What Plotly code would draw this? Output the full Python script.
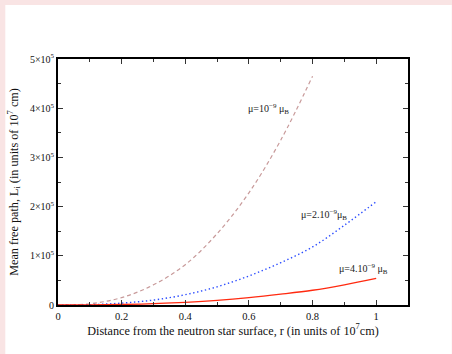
import plotly.graph_objects as go

# Distance r (units of 1e7 cm)
r_full = [0.0, 0.1, 0.2, 0.3, 0.4, 0.5, 0.6, 0.7, 0.8, 0.9, 1.0]
r_short = [0.0, 0.1, 0.2, 0.3, 0.4, 0.5, 0.6, 0.7, 0.8]

# Mean free path (units of 1e5)
L_mu1 = [0.0, 0.025, 0.15, 0.41, 0.82, 1.45, 2.28, 3.35, 4.65]
L_mu2 = [0.0, 0.007, 0.038, 0.10, 0.21, 0.37, 0.59, 0.86, 1.18, 1.62, 2.10]
L_mu4 = [0.0, 0.002, 0.010, 0.027, 0.055, 0.095, 0.15, 0.22, 0.30, 0.41, 0.54]

x_ticks = [0, 0.2, 0.4, 0.6, 0.8, 1.0]
x_ticktext = ["0", "0.2", "0.4", "0.6", "0.8", "1"]
y_ticks = [0, 1e5, 2e5, 3e5, 4e5, 5e5]
y_ticktext = ["0", "1×10<sup>5</sup>", "2×10<sup>5</sup>", "3×10<sup>5</sup>",
              "4×10<sup>5</sup>", "5×10<sup>5</sup>"]

labels = ["μ=10<sup>−9</sup> μ<sub>B</sub>", "μ=2.10<sup>−9</sup>μ<sub>B</sub>",
          "μ=4.10<sup>−9</sup> μ<sub>B</sub>"]
label_x = [0.66, 0.835, 0.96]
label_y = [3.98e5, 1.83e5, 0.73e5]

scale = 1e5
fig = go.Figure()
fig.add_trace(go.Scatter(x=r_short, y=[v * scale for v in L_mu1], mode="lines",
                         line=dict(color="#c89a9a", width=1.2, dash="4px,3px", shape="spline"),
                         showlegend=False))
fig.add_trace(go.Scatter(x=r_full, y=[v * scale for v in L_mu2], mode="lines",
                         line=dict(color="#2b4cff", width=1.4, dash="1.4px,2.6px", shape="spline"),
                         showlegend=False))
fig.add_trace(go.Scatter(x=r_full, y=[v * scale for v in L_mu4], mode="lines",
                         line=dict(color="#ff2a10", width=1.3, shape="spline"),
                         showlegend=False))

for t, xx, yy in zip(labels, label_x, label_y):
    fig.add_annotation(x=xx, y=yy, text=t, showarrow=False,
                       font=dict(family="Liberation Serif", size=10, color="#222"))

font = dict(family="Liberation Serif", size=10, color="#111")
fig.update_layout(
    width=452, height=354,
    margin=dict(l=56, r=44, t=59, b=49),
    paper_bgcolor="#f9e4e4",
    plot_bgcolor="white",
    font=font,
    xaxis=dict(range=[0, 1.1], tickvals=x_ticks, ticktext=x_ticktext,
               ticks="inside", ticklen=5, tickwidth=1, tickcolor="#333",
               minor=dict(ticks="inside", ticklen=3, dtick=0.1, tickcolor="#333", showgrid=False),
               showline=True, linecolor="black", linewidth=1.8, mirror="ticks",
               showgrid=False, zeroline=False,
               title=dict(text="Distance from the neutron star surface, r (in units of 10<sup>7</sup>cm)",
                          font=dict(family="Liberation Serif", size=12.2, color="#111"), standoff=3),
               tickfont=dict(family="Liberation Serif", size=10.5)),
    yaxis=dict(range=[0, 5e5], tickvals=y_ticks, ticktext=y_ticktext,
               ticks="inside", ticklen=5, tickwidth=1, tickcolor="#333",
               minor=dict(ticks="inside", ticklen=3, dtick=5e4, tickcolor="#333", showgrid=False),
               showline=True, linecolor="black", linewidth=1.8, mirror="ticks",
               showgrid=False, zeroline=False,
               title=dict(text="Mean free path, L<sub>i</sub> (in units of 10<sup>7</sup> cm)",
                          font=dict(family="Liberation Serif", size=12.2, color="#111"), standoff=9),
               tickfont=dict(family="Liberation Serif", size=10)),
    shapes=[dict(type="rect", xref="paper", yref="paper",
                 x0=(3 - 56) / 352, x1=(452 - 56) / 352,
                 y0=(305 - 354) / 246, y1=(305 - 5) / 246,
                 fillcolor="white", line=dict(width=0), layer="below")],
)
fig.write_html("out.html")
